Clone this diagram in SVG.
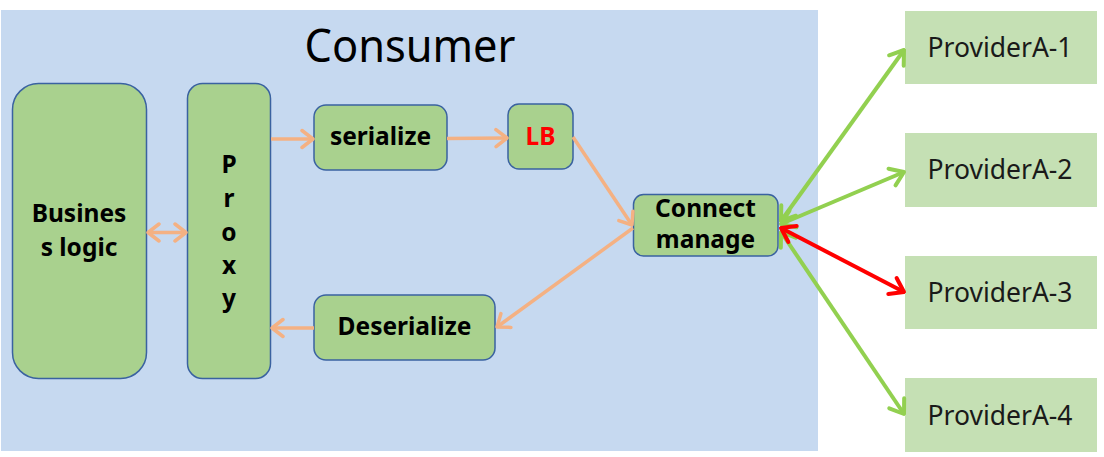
<svg xmlns="http://www.w3.org/2000/svg" width="1104" height="457" viewBox="0 0 1104 457">
<style>
.node{fill:#a9d18e;stroke:#3a62a0;stroke-width:1.5}
.prov{fill:#c5e0b4}
.t{font-family:"Noto Sans","Liberation Sans",sans-serif;font-weight:bold;font-size:24.5px;fill:#000;text-anchor:middle}
.pt{font-family:"Noto Sans","Liberation Sans",sans-serif;font-size:26.5px;fill:#1a1a1a;text-anchor:middle}
.sal{stroke:#f4b183;stroke-width:3.5;fill:none}
.grn{stroke:#92d050;stroke-width:4;fill:none}
.red{stroke:#ff0000;stroke-width:4;fill:none}
</style>
<defs>
<marker id="ms" markerUnits="userSpaceOnUse" viewBox="-14 -11 16 22" refX="0" refY="0" markerWidth="16" markerHeight="22" orient="auto-start-reverse">
<path d="M-11,-8.5 L0,0 L-11,8.5" fill="none" stroke="#f4b183" stroke-width="3.5" stroke-linecap="round" stroke-linejoin="round"/>
</marker>
<marker id="mg" markerUnits="userSpaceOnUse" viewBox="-16 -12 18 24" refX="0" refY="0" markerWidth="18" markerHeight="24" orient="auto-start-reverse">
<path d="M-13,-9 L0,0 L-13,9" fill="none" stroke="#92d050" stroke-width="4" stroke-linecap="round" stroke-linejoin="round"/>
</marker>
<marker id="mr" markerUnits="userSpaceOnUse" viewBox="-16 -12 18 24" refX="0" refY="0" markerWidth="18" markerHeight="24" orient="auto-start-reverse">
<path d="M-13,-9 L0,0 L-13,9" fill="none" stroke="#ff0000" stroke-width="4" stroke-linecap="round" stroke-linejoin="round"/>
</marker>
</defs>
<rect width="1104" height="457" fill="#ffffff"/>
<g id="consumer">
<rect x="1" y="10" width="817" height="441" fill="#c6d9f0"/>
<text x="410" y="62" font-family="Noto Sans, Liberation Sans, sans-serif" font-size="46" fill="#000" text-anchor="middle" textLength="211" lengthAdjust="spacingAndGlyphs">Consumer</text>
</g>
<g id="business">
<rect class="node" x="12.5" y="83.5" width="134" height="295" rx="26"/>
<text class="t" x="79" y="222">Busines</text>
<text class="t" x="79" y="256">s logic</text>
</g>
<g id="proxy">
<rect class="node" x="187.5" y="83.5" width="83" height="295" rx="15"/>
<text class="t" x="229" y="173">P</text>
<text class="t" x="229" y="207">r</text>
<text class="t" x="229" y="241">o</text>
<text class="t" x="229" y="274">x</text>
<text class="t" x="229" y="307">y</text>
</g>
<g id="serialize">
<rect class="node" x="314" y="105" width="133" height="65" rx="12"/>
<text class="t" x="380.5" y="145">serialize</text>
</g>
<g id="lb">
<rect class="node" x="508" y="104" width="65" height="65" rx="11"/>
<text class="t" x="540.5" y="145" style="fill:#ff0000">LB</text>
</g>
<g id="deserialize">
<rect class="node" x="314" y="295" width="181" height="65" rx="12"/>
<text class="t" x="404.5" y="335">Deserialize</text>
</g>
<g id="connect">
<rect class="node" x="633.5" y="194.5" width="144.5" height="61.5" rx="10"/>
<text class="t" x="705.5" y="217">Connect</text>
<text class="t" x="705.5" y="248">manage</text>
</g>
<g id="p1"><rect class="prov" x="905" y="11" width="192" height="73"/><text class="pt" x="1000" y="57">ProviderA-1</text></g>
<g id="p2"><rect class="prov" x="905" y="133" width="192" height="74"/><text class="pt" x="1000" y="179">ProviderA-2</text></g>
<g id="p3"><rect class="prov" x="905" y="256" width="192" height="73"/><text class="pt" x="1000" y="302">ProviderA-3</text></g>
<g id="p4"><rect class="prov" x="905" y="378" width="192" height="74"/><text class="pt" x="1000" y="425">ProviderA-4</text></g>
<g id="connectors">
<line class="sal" x1="148" y1="232.5" x2="186" y2="232.5" marker-start="url(#ms)" marker-end="url(#ms)"/>
<line class="sal" x1="271" y1="139" x2="313" y2="139" marker-end="url(#ms)"/>
<line class="sal" x1="447" y1="138.5" x2="507" y2="138" marker-end="url(#ms)"/>
<line class="sal" x1="573" y1="137" x2="632" y2="225" marker-end="url(#ms)"/>
<line class="sal" x1="633" y1="228" x2="497" y2="327" marker-end="url(#ms)"/>
<line class="sal" x1="314" y1="328" x2="272" y2="328" marker-end="url(#ms)"/>
<line class="grn" x1="781" y1="221" x2="904" y2="50" marker-start="url(#mg)" marker-end="url(#mg)"/>
<line class="grn" x1="781" y1="224" x2="904" y2="172" marker-start="url(#mg)" marker-end="url(#mg)"/>
<line class="grn" x1="781" y1="232" x2="904" y2="414" marker-start="url(#mg)" marker-end="url(#mg)"/>
<line class="red" x1="781" y1="228" x2="904" y2="292" marker-start="url(#mr)" marker-end="url(#mr)"/>
</g>
</svg>
